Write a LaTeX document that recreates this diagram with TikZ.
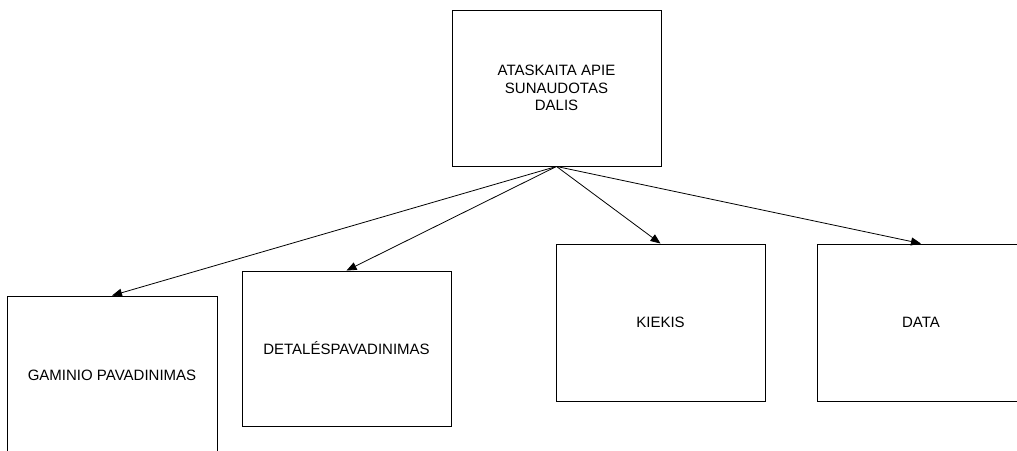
\documentclass[tikz,border=0pt]{standalone}
\usepackage{fontspec}
\setmainfont{Liberation Sans}
\usetikzlibrary{arrows.meta}
\begin{document}
\begin{tikzpicture}[x=1pt,y=-1pt,
  box/.style={draw=black, line width=0.9pt, rectangle, inner sep=0pt,
    minimum width=209pt, minimum height=156pt, align=center,
    font=\fontsize{15pt}{17.5pt}\selectfont},
  link/.style={draw=black, line width=0.8pt,
    -{Triangle[length=10pt,width=8pt]}, shorten >=0pt}]
  \useasboundingbox (0,0) rectangle (1017,450);
  \clip (0,0) rectangle (1017,450);

  % report and its four fields
  \node[box] (report) at (556.5,88) {ATASKAITA APIE\\SUNAUDOTAS\\DALIS};
  \node[box, minimum width=210pt, minimum height=158pt] (product) at (112,375) {GAMINIO PAVADINIMAS};
  \node[box, minimum height=155pt] (part) at (346.5,348.5) {DETALÉSPAVADINIMAS};
  \node[box, minimum height=157pt] (qty) at (660.5,322.5) {KIEKIS};
  \node[box, minimum width=208pt, minimum height=157pt] (date) at (921,322.5) {DATA};

  % connectors from the report to each field
  \draw[link] (report.south) -- (product.north);
  \draw[link] (report.south) -- (part.north);
  \draw[link] (report.south) -- (qty.north);
  \draw[link] (report.south) -- (date.north);
\end{tikzpicture}
\end{document}
